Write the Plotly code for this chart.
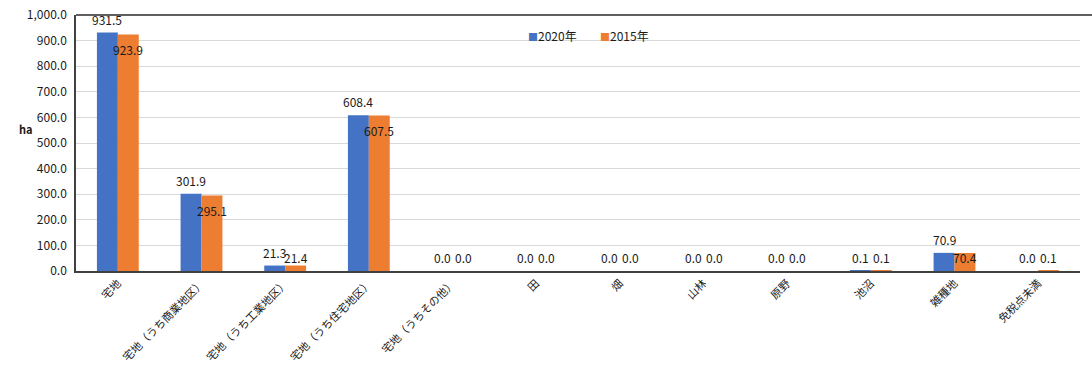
import plotly.graph_objects as go

categories = ["宅地", "宅地（うち商業地区）", "宅地（うち工業地区）", "宅地（うち住宅地区）",
              "宅地（うちその他）", "田", "畑", "山林", "原野", "池沼", "雑種地", "免税点未満"]
values_2020 = [931.5, 301.9, 21.3, 608.4, 0.0, 0.0, 0.0, 0.0, 0.0, 0.1, 70.9, 0.0]
values_2015 = [923.9, 295.1, 21.4, 607.5, 0.0, 0.0, 0.0, 0.0, 0.0, 0.1, 70.4, 0.1]
y_ticks = [0, 100, 200, 300, 400, 500, 600, 700, 800, 900, 1000]
series_names = ["2020年", "2015年"]

BLUE = "#4472C4"
ORANGE = "#ED7D31"
FONT = "Noto Sans CJK JP, Roboto, sans-serif"
TXT = "#1a1a1a"

W, H = 1092, 365
ML, MR, MT, MB = 76, 12, 15, 94
PW = W - ML - MR
PH = H - MT - MB


def px_x(px):
    return (px - ML) / PW


def px_y(py):
    return (H - MB - py) / PH


fig = go.Figure()
fig.add_trace(go.Bar(name=series_names[0], x=categories, y=values_2020, marker_color=BLUE,
                     marker_line_width=0))
fig.add_trace(go.Bar(name=series_names[1], x=categories, y=values_2015, marker_color=ORANGE,
                     marker_line_width=0))

# value labels: 2020 above its bar, 2015 just under its bar top (kept above the baseline)
annotations = []
for cat, v20, v15 in zip(categories, values_2020, values_2015):
    annotations.append(dict(x=cat, y=v20, xref="x", yref="y", text=f"{v20:.1f}",
                            showarrow=False, xshift=-10.5, yshift=13.5,
                            font=dict(family=FONT, size=12, color=TXT)))
    y15 = max(v15 - 58, 51)
    annotations.append(dict(x=cat, y=y15, xref="x", yref="y", text=f"{v15:.1f}",
                            showarrow=False, xshift=10.5, yshift=0,
                            font=dict(family=FONT, size=12, color=TXT)))

# axis unit
annotations.append(dict(x=px_x(17), y=px_y(129), xref="paper", yref="paper", text="<b>ha</b>",
                        showarrow=False, font=dict(family=FONT, size=11, color=TXT)))

# legend entries
for name, color, cx in [(series_names[0], BLUE, 552), (series_names[1], ORANGE, 624)]:
    annotations.append(dict(x=px_x(cx), y=px_y(25), xref="paper", yref="paper",
                            text=f"<span style='color:{color};font-size:10px'>■</span>{name}",
                            showarrow=False, font=dict(family=FONT, size=12, color=TXT)))

fig.update_layout(
    width=W, height=H,
    margin=dict(l=ML, r=MR, t=MT, b=MB, autoexpand=False),
    paper_bgcolor="white", plot_bgcolor="white",
    barmode="group", bargap=0.5, bargroupgap=0,
    font=dict(family=FONT, size=12, color=TXT),
    showlegend=False,
    annotations=annotations,
    xaxis=dict(tickangle=-45, showline=True, linecolor="#404040", linewidth=1.5,
               tickfont=dict(family=FONT, size=11, color=TXT), ticks="", automargin=False),
    yaxis=dict(range=[0, 1000], tickvals=y_ticks,
               ticktext=[f"{t:,.1f}" for t in y_ticks],
               showgrid=True, gridcolor="#D9D9D9", gridwidth=1,
               showline=True, linecolor="#404040", linewidth=1.5, automargin=False,
               zeroline=False, ticks="", ticklabelstandoff=5,
               tickfont=dict(family=FONT, size=12, color=TXT)),
)

# top border of the plot frame running out to the right edge
fig.add_shape(type="line", xref="paper", yref="paper", x0=0, x1=1.02, y0=1, y1=1,
              line=dict(color="#606060", width=2))

fig.write_html("out.html")
